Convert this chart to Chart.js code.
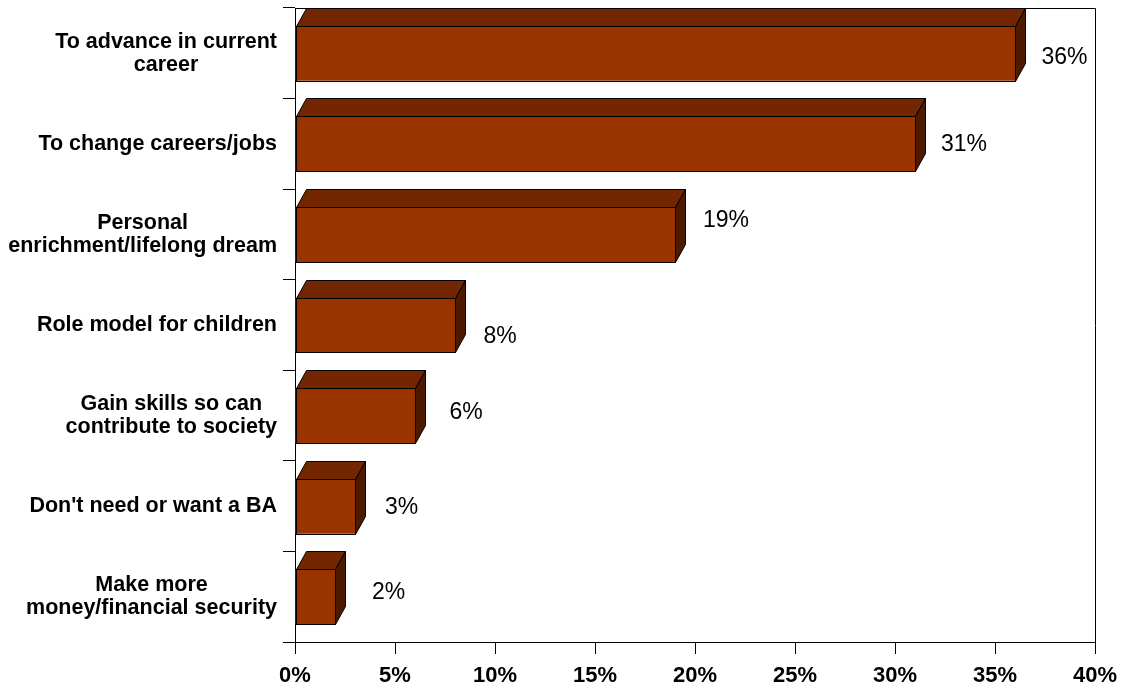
<!DOCTYPE html>
<html>
<head>
<meta charset="utf-8">
<title>Reasons for pursuing a degree</title>
<script src="https://cdn.jsdelivr.net/npm/chart.js@4.4.1/dist/chart.umd.min.js"></script>
<style>
  html, body { margin: 0; padding: 0; background: #ffffff; }
  #wrap { width: 1121px; height: 688px; position: relative; }
</style>
</head>
<body>
<div id="wrap"><canvas id="chart" width="1121" height="688"></canvas></div>
<script>
// Category labels (each entry is the lines of one label)
const categories = [
  ["To advance in current", "career"],
  ["To change careers/jobs"],
  ["Personal", "enrichment/lifelong dream"],
  ["Role model for children"],
  ["Gain skills so can", "contribute to society"],
  ["Don't need or want a BA"],
  ["Make more", "money/financial security"]
];

// Share of respondents, percent
const shares = [36, 31, 19, 8, 6, 3, 2];

// Value-axis tick range and step
const axisMin = 0;
const axisMax = 40;
const axisStep = 5;

// Small per-label offsets (px) for the value labels
const labelNudgeX = [0.5, 0, 2, -4, 2, -2.5, 4.5];
const labelNudgeY = [4, 1, -14, 12, -3, 2, -4];

const FRONT = '#993300';
const TOP = '#732600';
const SIDE = '#4d1a00';
const DEPTH_X = 10;
const DEPTH_Y = 18;
const FONT = '"Liberation Sans", Arial, Helvetica, sans-serif';

// Frame around the plot area
const framePlugin = {
  id: 'frame',
  beforeDatasetsDraw(chart) {
    const { ctx, chartArea: a } = chart;
    ctx.save();
    ctx.strokeStyle = '#000';
    ctx.lineWidth = 1;
    ctx.beginPath();
    ctx.moveTo(Math.round(a.left) + 0.5, Math.round(a.top) + 0.5);
    ctx.lineTo(Math.round(a.right) + 0.5, Math.round(a.top) + 0.5);
    ctx.lineTo(Math.round(a.right) + 0.5, Math.round(a.bottom) + 0.5);
    ctx.lineTo(Math.round(a.left) + 0.5, Math.round(a.bottom) + 0.5);
    ctx.closePath();
    ctx.stroke();
    ctx.restore();
  }
};

// Top and side faces give each bar its block look
const blockPlugin = {
  id: 'block',
  afterDatasetsDraw(chart) {
    const { ctx } = chart;
    const meta = chart.getDatasetMeta(0);
    ctx.save();
    ctx.lineWidth = 1;
    ctx.strokeStyle = '#000';
    ctx.lineJoin = 'miter';
    meta.data.forEach((bar) => {
      const p = bar.getProps(['x', 'y', 'base', 'height'], true);
      const x0 = Math.round(p.base) + 0.5;
      const x1 = Math.round(p.x) + 0.5;
      const top = Math.round(p.y - p.height / 2) + 0.5;
      const bottom = Math.round(p.y + p.height / 2) + 0.5;
      // front outline
      ctx.strokeRect(x0, top, x1 - x0, bottom - top);
      // top face
      ctx.beginPath();
      ctx.moveTo(x0, top);
      ctx.lineTo(x0 + DEPTH_X, top - DEPTH_Y);
      ctx.lineTo(x1 + DEPTH_X, top - DEPTH_Y);
      ctx.lineTo(x1, top);
      ctx.closePath();
      ctx.fillStyle = TOP;
      ctx.fill();
      ctx.stroke();
      // side face
      ctx.beginPath();
      ctx.moveTo(x1, top);
      ctx.lineTo(x1 + DEPTH_X, top - DEPTH_Y);
      ctx.lineTo(x1 + DEPTH_X, bottom - DEPTH_Y);
      ctx.lineTo(x1, bottom);
      ctx.closePath();
      ctx.fillStyle = SIDE;
      ctx.fill();
      ctx.stroke();
    });
    ctx.restore();
  }
};

// Value labels beside the bars and category labels on the left
const labelPlugin = {
  id: 'labels',
  afterDraw(chart) {
    const { ctx } = chart;
    const meta = chart.getDatasetMeta(0);
    const yScale = chart.scales.y;
    ctx.save();
    ctx.fillStyle = '#000';
    ctx.textBaseline = 'middle';

    ctx.font = '23px ' + FONT;
    ctx.textAlign = 'center';
    meta.data.forEach((bar, i) => {
      const v = shares[i];
      ctx.fillText(v + '%', bar.x + 49 + labelNudgeX[i], bar.y + labelNudgeY[i]);
    });

    ctx.font = 'bold 21.5px ' + FONT;
    const rightEdge = chart.chartArea.left - 18;
    const lineH = 23;
    categories.forEach((lines, i) => {
      const cy = yScale.getPixelForValue(i);
      const widths = lines.map((l) => ctx.measureText(l).width);
      const w = Math.max(...widths);
      const cx = rightEdge - w / 2;
      const y0 = cy - (lines.length - 1) * lineH / 2;
      lines.forEach((l, k) => {
        ctx.fillText(l, cx, y0 + k * lineH);
      });
    });
    ctx.restore();
  }
};

new Chart(document.getElementById('chart'), {
  type: 'bar',
  data: {
    labels: categories,
    datasets: [{
      data: shares,
      backgroundColor: FRONT,
      borderColor: '#000',
      borderWidth: 0,
      borderSkipped: false,
      categoryPercentage: 1,
      barPercentage: 0.607
    }]
  },
  options: {
    indexAxis: 'y',
    responsive: false,
    animation: false,
    devicePixelRatio: 1,
    layout: { padding: { top: 8, right: 26, left: 0, bottom: 0 } },
    plugins: {
      legend: { display: false },
      tooltip: { enabled: false }
    },
    scales: {
      x: {
        type: 'linear',
        min: axisMin,
        max: axisMax,
        ticks: {
          stepSize: axisStep,
          color: '#000',
          font: { family: FONT, size: 22, weight: 'bold' },
          padding: 9,
          callback: (v) => v + '%'
        },
        grid: {
          drawOnChartArea: false,
          drawTicks: true,
          tickLength: 12,
          color: '#000'
        },
        border: { display: true, color: '#000' },
        afterFit(scale) {
          scale.height = 46;
          scale.paddingLeft = 0;
          scale.paddingRight = 0;
        }
      },
      y: {
        type: 'category',
        ticks: { display: false },
        grid: {
          offset: true,
          drawOnChartArea: false,
          drawTicks: true,
          tickLength: 12,
          color: '#000'
        },
        border: { display: true, color: '#000' },
        afterFit(scale) { scale.width = 295; }
      }
    }
  },
  plugins: [framePlugin, blockPlugin, labelPlugin]
});
</script>
</body>
</html>
